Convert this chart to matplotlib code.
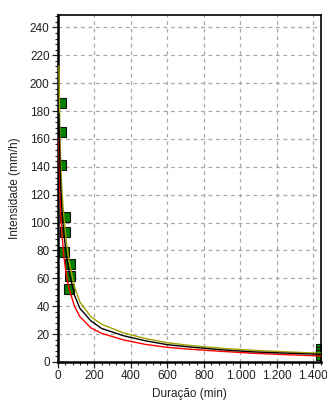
import matplotlib
matplotlib.use("Agg")
import matplotlib.pyplot as plt
from matplotlib.ticker import MultipleLocator, FuncFormatter

plt.rcParams['font.family'] = ['Liberation Sans', 'DejaVu Sans']

# Durations (min) for the fitted curves
durations = [5, 10, 15, 20, 30, 45, 60, 90, 120, 180, 240, 360, 480, 600, 720, 900, 1080, 1260, 1440]
# Central curve (black)
i_mid = [178, 145, 125, 112, 95, 77, 65, 48, 38.5, 29.5, 24, 18.8, 15.2, 12.4, 10.8, 8.7, 7.2, 6.3, 5.5]
# Upper curve (olive)
i_up = [212, 165, 142, 126, 107, 87, 73, 54, 43, 32.5, 27, 20.8, 16.8, 13.8, 11.9, 9.8, 8.3, 7.2, 6.3]
# Lower curve (red)
i_low = [160, 125, 107, 95, 78, 63, 53, 40, 32.5, 24.5, 20.5, 15.8, 12.6, 10.5, 9.2, 7.6, 6.2, 5.2, 4.3]

# Observed points (green squares)
obs_t = [16, 16, 16, 37, 37, 35, 63, 63, 61, 1440, 1440, 1440]
obs_i = [186, 165, 141, 104, 93, 79, 70, 62, 52, 9.5, 7, 5]

x_ticks = [0, 200, 400, 600, 800, 1000, 1200, 1400]
y_ticks = [0, 20, 40, 60, 80, 100, 120, 140, 160, 180, 200, 220, 240]

fig = plt.figure(figsize=(3.27, 4.0), dpi=100)
ax = fig.add_axes([0.1774, 0.095, 0.9807 - 0.1774, 0.963 - 0.095])

ax.plot(obs_t, obs_i, linestyle='none', marker='s', markersize=6.8,
        markerfacecolor='#008000', markeredgecolor='#111111', markeredgewidth=0.8,
        zorder=2, clip_on=True)
ax.plot(durations, i_low, color='#ff0000', lw=1.0, zorder=3)
ax.plot(durations, i_up, color='#a0a000', lw=1.0, zorder=3)
ax.plot(durations, i_mid, color='#000000', lw=1.0, zorder=4)

ax.set_xlim(0, 1440)
ax.set_ylim(0, 249)
ax.set_xticks(x_ticks)
ax.set_yticks(y_ticks)
ax.xaxis.set_minor_locator(MultipleLocator(40))
ax.yaxis.set_minor_locator(MultipleLocator(4))

def thousands(v, pos):
    return f"{int(v):,}".replace(",", ".")
ax.xaxis.set_major_formatter(FuncFormatter(thousands))

ax.grid(True, which='major', color='#a8a8a8', linestyle=(0, (3, 3)), lw=0.9)
ax.set_axisbelow(True)

for s in ax.spines.values():
    s.set_color('black')
    s.set_linewidth(1.2)
ax.spines['left'].set_linewidth(1.8)
ax.spines['bottom'].set_linewidth(1.8)

ax.tick_params(axis='both', which='major', direction='out', length=4, width=0.9,
               labelsize=8.5, colors='#222222', pad=2)
ax.tick_params(axis='both', which='minor', direction='out', length=2.5, width=0.8, colors='#222222')
ax.tick_params(top=False, right=False, which='both')

ax.set_xlabel('Duração (min)', fontsize=8.5, color='#222222', labelpad=4)
ax.set_ylabel('Intensidade (mm/h)', fontsize=8.5, color='#222222', labelpad=6)

fig.savefig('out.png', dpi=100)
